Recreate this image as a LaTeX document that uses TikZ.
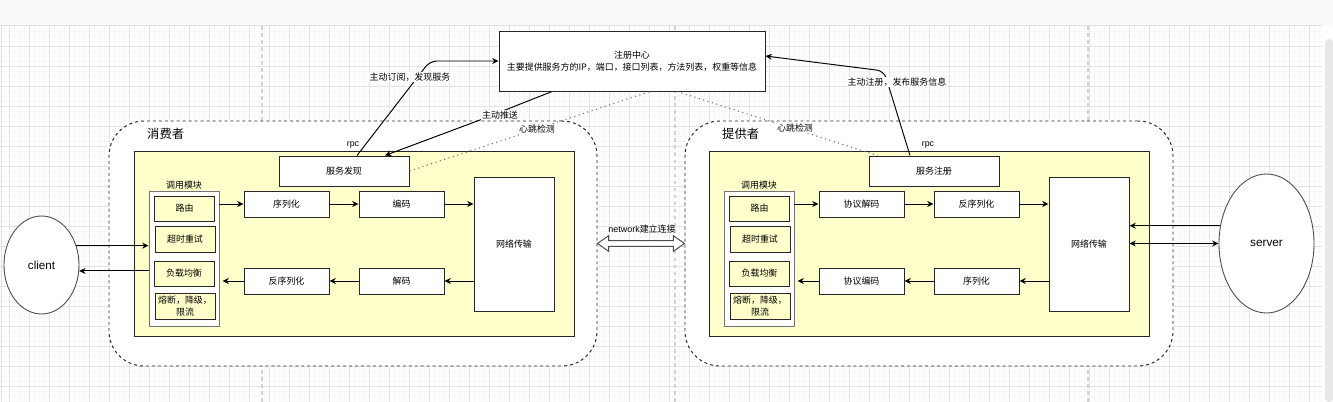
\documentclass[tikz,border=0pt]{standalone}
\usepackage{fontspec}
\setmainfont{Liberation Sans}
\newfontfamily\cjk{Noto Sans CJK SC}
\usetikzlibrary{arrows.meta, calc, positioning, shapes.geometric, shapes.arrows}
\definecolor{notebg}{HTML}{FFFFCC}
\definecolor{barbg}{HTML}{F8F9FA}
\tikzset{
  txt/.style={font=\cjk\fontsize{5.1}{6.6}\selectfont},
  box/.style={txt, draw=black!85, fill=white, line width=0.55pt, inner sep=0pt, align=center},
  ybox/.style={box, fill=notebg},
  sz/.style 2 args={minimum width=#1*0.02cm, minimum height=#2*0.02cm},
  partbox/.style={draw=black!85, dash pattern=on 1.7pt off 1.7pt, line width=0.55pt, rounded corners=0.7cm, fill=white},
  conn/.style={line width=0.55pt, -{Stealth[length=3.6pt,width=3.4pt]}},
  beat/.style={dotted, line width=0.6pt, black!60},
  lbl/.style={txt, inner sep=0.6pt, fill=white},
  rpclbl/.style={font=\fontsize{5}{6}\selectfont, inner sep=0pt},
}

\begin{document}
\begin{tikzpicture}[x=0.02cm,y=-0.02cm]
	\useasboundingbox (0,0) rectangle (1333,402);
	
	% editor canvas
	\fill[white] (0,0) rectangle (1333,402);
	\foreach \gx in {4.3,9.3,...,1320} \draw[gray!6, line width=0.3pt] (\gx,26) -- (\gx,402);
	\foreach \gy in {31,36,...,402} \draw[gray!6, line width=0.3pt] (0,\gy) -- (1322,\gy);
	\foreach \gx in {9.3,29.3,...,1320} \draw[gray!22, line width=0.35pt] (\gx,26) -- (\gx,402);
	\foreach \gy in {46,66,...,402} \draw[gray!22, line width=0.35pt] (0,\gy) -- (1322,\gy);
	\foreach \gx in {262,675,1088} \draw[gray!35, dash pattern=on 2pt off 2pt, line width=0.6pt] (\gx,26) -- (\gx,402);
	\fill[white] (1322,26) rectangle (1333,402);
	\fill[barbg] (0,0) rectangle (1333,25);
	\draw[gray!25, line width=0.6pt] (0,25.5) -- (1322,25.5);
	\draw[gray!25, line width=0.6pt] (1.5,25.5) -- (1.5,402);
	\fill[gray!18, rounded corners=2pt] (1325,39) rectangle (1333,402);
	
	% consumer / provider groups
	\node[partbox, sz={488}{245}] (cons) at (353,243.5) {};
	\node[partbox, sz={488}{245}] (prov) at (929,243.5) {};
	\node[font=\cjk\fontsize{7}{8}\selectfont, anchor=west] at (141,134) {消费者};
	\node[font=\cjk\fontsize{7}{8}\selectfont, anchor=west] at (716,134) {提供者};
	\node[ybox, sz={440}{185}] (cpanel) at (354,243.5) {};
	\node[ybox, sz={440}{185}] (ppanel) at (929,243.5) {};
	
	% registry
	\node[box, sz={266}{60}] (reg) at (632,61) {注册中心\\主要提供服务方的IP，端口，接口列表，方法列表，权重等信息};
	
	% consumer side
	\node[box, sz={130}{30}] (find) at (344,171) {服务发现};
	\node[rpclbl] at (353,145) {rpc};
	\node[txt] at (184,185) {调用模块};
	\node[box, draw=black!55, sz={70}{135}] (cmod) at (184,258.5) {};
	\node[ybox, sz={60}{25}] (croute) at (184.5,208.5) {路由};
	\node[ybox, sz={60}{26}] (cretry) at (185,239) {超时重试};
	\node[ybox, sz={60}{25}] (cbal) at (184,273.5) {负载均衡};
	\node[ybox, sz={60}{26}] (cfuse) at (185,306) {熔断，降级，\\限流};
	\node[box, sz={85}{26}] (cser) at (286.5,204) {序列化};
	\node[box, sz={85}{26}] (cenc) at (401.5,204) {编码};
	\node[box, sz={80}{134}] (cnet) at (514,244) {网络传输};
	\node[box, sz={85}{26}] (cdeser) at (286.5,281) {反序列化};
	\node[box, sz={85}{26}] (cdec) at (401.5,281) {解码};
	
	% provider side
	\node[box, sz={130}{30}] (preg) at (934,171) {服务注册};
	\node[rpclbl] at (928,145) {rpc};
	\node[txt] at (759,185) {调用模块};
	\node[box, draw=black!55, sz={70}{135}] (pmod) at (759,258.5) {};
	\node[ybox, sz={60}{25}] (proute) at (759.5,208.5) {路由};
	\node[ybox, sz={60}{26}] (pretry) at (760,239) {超时重试};
	\node[ybox, sz={60}{25}] (pbal) at (759.5,273.5) {负载均衡};
	\node[ybox, sz={60}{26}] (pfuse) at (760,306) {熔断，降级，\\限流};
	\node[box, sz={85}{26}] (pdec) at (861.5,204) {协议解码};
	\node[box, sz={85}{26}] (pdeser) at (976.5,204) {反序列化};
	\node[box, sz={80}{134}] (pnet) at (1089,244) {网络传输};
	\node[box, sz={85}{26}] (penc) at (861.5,281) {协议编码};
	\node[box, sz={85}{26}] (pser) at (976.5,281) {序列化};
	
	% client and server
	\node[ellipse, draw=black!70, fill=white, line width=0.5pt, sz={75}{98}, font=\fontsize{6.6}{8}\selectfont] (client) at (41.5,265) {client};
	\node[ellipse, draw=black!70, fill=white, line width=0.5pt, sz={95}{139}, font=\fontsize{6.7}{8}\selectfont] (server) at (1266.5,243.5) {server};
	
	% link between the two sides
	\node[double arrow, draw=black!70, fill=white, line width=0.55pt, inner sep=2.3*0.02cm, minimum width=15*0.02cm, minimum height=87*0.02cm, double arrow head extend=5*0.02cm, double arrow tip angle=70] (link) at ($(cons.east)!0.5!(prov.west)$) {};
	\node[txt] at (642,229) {{\rmfamily network}建立连接};
	
	% consumer flow
	\draw[conn] (client.29) -- (client.29 -| cmod.west);
	\draw[conn] (cmod.west |- client.-9) -- (client.-9);
	\draw[conn] (cmod.east |- cser) -- (cser);
	\draw[conn] (cser) -- (cenc);
	\draw[conn] (cenc) -- (cenc -| cnet.west);
	\draw[conn] (cnet.west |- cdec) -- (cdec);
	\draw[conn] (cdec) -- (cdeser);
	\draw[conn] (cdeser) -- ($(cmod.east |- cdeser)+(3,0)$);
	
	% provider flow
	\draw[conn] (pmod.east |- pdec) -- (pdec);
	\draw[conn] (pdec) -- (pdeser);
	\draw[conn] (pdeser) -- (pdeser -| pnet.west);
	\draw[conn] (pnet.west |- pser) -- (pser);
	\draw[conn] (pser) -- (penc);
	\draw[conn] (penc) -- ($(pmod.east |- penc)+(3,0)$);
	\draw[conn] (server.159) -- (server.159 -| pnet.east);
	\draw[line width=0.55pt, {Stealth[length=3.6pt,width=3.4pt]}-{Stealth[length=3.6pt,width=3.4pt]}] (pnet.east |- server.west) -- (server.west);
	
	% registry lines
	\draw[conn, rounded corners=4pt] ([xshift=0.26cm]find.north) -- (430,61) -- (reg.west);
	\node[lbl] at (410,77) {主动订阅，发现服务};
	\draw[conn] ([xshift=-1.6cm]reg.south) -- (480,120) -- ([xshift=0.82cm]find.north);
	\node[lbl] at (500,115) {主动推送};
	\draw[beat] (find.east) -- ([xshift=0.36cm]reg.south);
	\node[lbl] at (537,129) {心跳检测};
	\draw[beat] ([xshift=0.9cm]reg.south) -- ([xshift=0.18cm]preg.north west);
	\node[lbl] at (795,128) {心跳检测};
	\draw[conn, rounded corners=4pt] ([xshift=-0.48cm]preg.north) -- (884,71) -- ([yshift=0.1cm]reg.east);
	\node[lbl] at (897,82) {主动注册，发布服务信息};
\end{tikzpicture}
\end{document}
